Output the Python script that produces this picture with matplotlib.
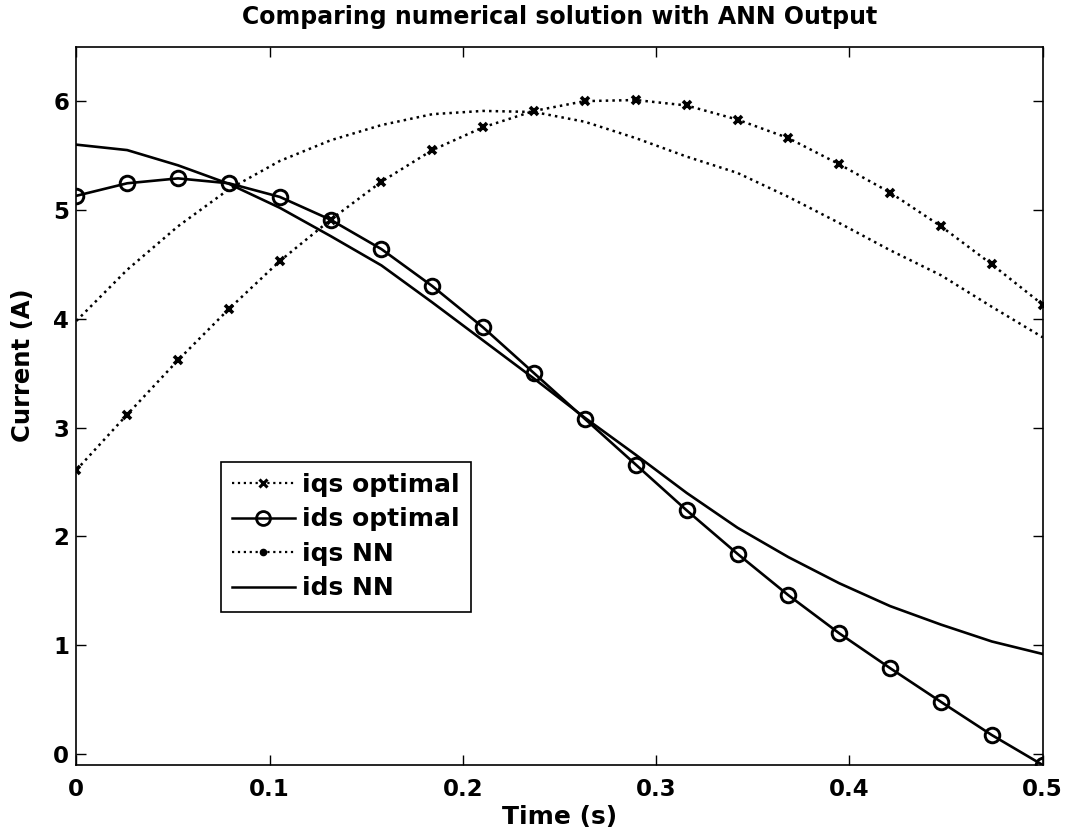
import numpy as np
import matplotlib
matplotlib.use("Agg")
import matplotlib.pyplot as plt
from matplotlib.lines import Line2D

plt.rcParams["font.family"] = ["DejaVu Sans"]
plt.rcParams["font.weight"] = "bold"

# time grid shared by all four series (20 samples over 0..0.5 s)
TIME = np.linspace(0, 0.5, 20)

IQS_OPT = [2.61, 3.12, 3.62, 4.09, 4.53, 4.91, 5.26, 5.55, 5.76, 5.91,
           6.00, 6.01, 5.96, 5.83, 5.66, 5.42, 5.16, 4.85, 4.50, 4.13]
IDS_OPT = [5.13, 5.245, 5.29, 5.245, 5.12, 4.91, 4.64, 4.30, 3.92, 3.50,
           3.08, 2.66, 2.24, 1.84, 1.46, 1.11, 0.79, 0.48, 0.175, -0.10]
IQS_NN = [3.98, 4.45, 4.85, 5.19, 5.45, 5.64, 5.78, 5.88, 5.91, 5.90,
          5.81, 5.66, 5.49, 5.34, 5.12, 4.88, 4.63, 4.40, 4.11, 3.83]
IDS_NN = [5.60, 5.55, 5.41, 5.24, 5.02, 4.76, 4.49, 4.15, 3.80, 3.45,
          3.09, 2.75, 2.40, 2.08, 1.81, 1.57, 1.36, 1.19, 1.035, 0.92]

LABELS = ["iqs optimal", "ids optimal", "iqs NN", "ids NN"]
XTICKS = [0, 0.1, 0.2, 0.3, 0.4, 0.5]
XTICKLABELS = ["0", "0.1", "0.2", "0.3", "0.4", "0.5"]
YTICKS = [0, 1, 2, 3, 4, 5, 6]

fig = plt.figure(figsize=(10.74, 8.36), dpi=100)
ax = fig.add_axes([76.3 / 1074, 1 - 765 / 836,
                   (1042.7 - 76.3) / 1074, (765 - 46.7) / 836])

ax.plot(TIME, IQS_OPT, color="black", ls=":", lw=1.8,
        marker="x", ms=6, mew=2.6)
ax.plot(TIME, IDS_OPT, color="black", ls="-", lw=1.9,
        marker="o", ms=10.5, mew=2.1, mfc="none")
ax.plot(TIME, IQS_NN, color="black", ls=":", lw=1.8)
ax.plot(TIME, IDS_NN, color="black", ls="-", lw=1.9)

handles = [
    Line2D([], [], color="black", ls=":", lw=1.6, marker="x", ms=6, mew=2.2),
    Line2D([], [], color="black", ls="-", lw=1.8, marker="o", ms=10, mew=2,
           mfc="none"),
    Line2D([], [], color="black", ls=":", lw=1.6, marker=".", ms=9),
    Line2D([], [], color="black", ls="-", lw=1.8),
]
leg = ax.legend(handles, LABELS, loc="lower left",
                bbox_to_anchor=(0.1497, 0.2134), borderaxespad=0,
                fancybox=False, framealpha=1, edgecolor="black",
                prop={"size": 18, "weight": "bold"},
                handlelength=2.5, handletextpad=0.3, labelspacing=0.42,
                borderpad=0.45, numpoints=1)
leg.get_frame().set_linewidth(1.2)

ax.set_xlim(0, 0.5)
ax.set_ylim(-0.1, 6.5)
ax.set_xticks(XTICKS)
ax.set_xticklabels(XTICKLABELS)
ax.set_yticks(YTICKS)
ax.tick_params(direction="in", length=7, width=1, top=True, right=True,
               labelsize=16.5)
ax.tick_params(axis="x", pad=9)
ax.tick_params(axis="y", pad=5)
for sp in ax.spines.values():
    sp.set_linewidth(1.2)

ax.set_xlabel("Time (s)", fontsize=18, fontweight="bold", labelpad=3)
ax.set_ylabel("Current (A)", fontsize=17.5, fontweight="bold")
ax.yaxis.set_label_coords(-0.043, 0.557)
ax.set_title("Comparing numerical solution with ANN Output",
             fontsize=17, fontweight="bold", pad=16)

fig.savefig("out.png", dpi=100)
